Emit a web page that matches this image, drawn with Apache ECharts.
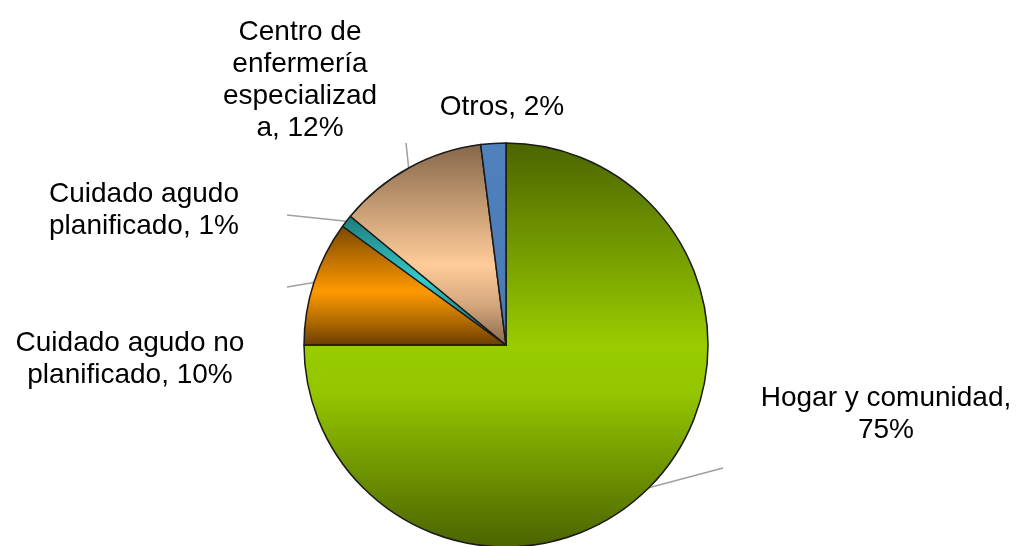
<!DOCTYPE html>
<html>
<head>
<meta charset="utf-8">
<script src="https://cdn.jsdelivr.net/npm/echarts@6/dist/echarts.min.js"></script>
<style>
html,body{margin:0;padding:0;background:#fff;}
#c{width:1019px;height:546px;}
</style>
</head>
<body>
<div id="c"></div>
<script>
// Data
const categories = ['Hogar y comunidad', 'Cuidado agudo no planificado', 'Cuidado agudo planificado', 'Centro de enfermería especializada', 'Otros'];
const values = [75, 10, 1, 12, 2];
const labelTexts = ['Hogar y comunidad,\n', 'Cuidado agudo no\nplanificado,', 'Cuidado agudo\nplanificado,', 'Centro de\nenfermería\nespecializad\na,', 'Otros,'];

// Styling / layout config
const labelPos = [[886, 414], [130, 359], [144, 210], [300, 80], [502, 107]];
const leaderEnd = [[723, 468], [287, 287], [287, 215], [406, 143], null];
function vgrad(stops){
  return {type:'linear', x:0, y:0, x2:0, y2:1, colorStops: stops.map(s=>({offset:s[0], color:s[1]}))};
}
const fills = [
  vgrad([[0,'#4b6400'],[0.5,'#99cc00'],[0.62,'#94c500'],[1,'#4a6300']]),
  vgrad([[0,'#7a4800'],[0.55,'#ff9900'],[0.8,'#b06a00'],[1,'#6a3c00']]),
  vgrad([[0,'#1f7a7a'],[0.5,'#33cccc'],[1,'#145454']]),
  vgrad([[0,'#86674a'],[0.6,'#ffcc99'],[0.8,'#d4a67c'],[1,'#86674a']]),
  vgrad([[0,'#4f81bd'],[1,'#4a7ab3']])
];

const chart = echarts.init(document.getElementById('c'));
chart.setOption({
  animation:false,
  series:[{
    type:'pie',
    center:[506, 345],
    radius:[0, 202],
    startAngle:90,
    clockwise:true,
    avoidLabelOverlap:false,
    itemStyle:{borderColor:'#1a1a1a', borderWidth:1.5},
    label:{
      show:true,
      position:'outside',
      fontFamily:'"Liberation Sans", Arial, sans-serif',
      fontSize:28,
      lineHeight:32,
      color:'#000',
      align:'center',
      formatter: p => labelTexts[p.dataIndex] + (labelTexts[p.dataIndex].endsWith('\n') ? '' : ' ') + Math.round(p.percent) + '%'
    },
    labelLine:{show:true, length:20, length2:10, lineStyle:{color:'#a0a0a0', width:1.5}},
    labelLayout: function(params){
      const i = params.dataIndex;
      const pos = labelPos[i];
      const out = {x: pos[0], y: pos[1], align:'center', verticalAlign:'middle'};
      if (leaderEnd[i] && params.labelLinePoints && params.labelLinePoints.length) {
        const s = params.labelLinePoints[0];
        out.labelLinePoints = [[s[0], s[1]], leaderEnd[i]];
      }
      return out;
    },
    data: categories.map((c,i)=>({
      name:c, value:values[i],
      itemStyle:{color:fills[i]},
      labelLine:{show: !!leaderEnd[i]}
    }))
  }]
});
</script>
</body>
</html>
